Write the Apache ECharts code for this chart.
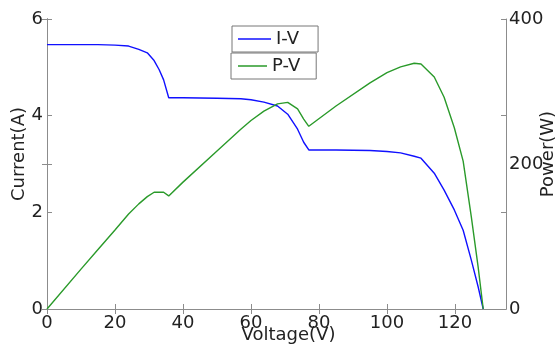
<!DOCTYPE html>
<html>
<head>
<meta charset="utf-8">
<script src="https://cdn.jsdelivr.net/npm/echarts@6/dist/echarts.min.js"></script>
<style>
  html, body { margin: 0; padding: 0; background: #fff; }
  #chart { width: 557px; height: 349px; }
</style>
</head>
<body>
<div id="chart"></div>
<script>
// values
const voltage = [0, 10, 15, 20, 24, 27, 29.5, 31.5, 33, 34.3, 35.8, 40, 50, 57, 60, 63.8, 67.8, 70.8, 73.7, 75.5, 77, 85, 95, 100, 104, 108, 110, 113.9, 116.8, 119.8, 122.4, 124.8, 126.8, 128.3];
const current = [5.47, 5.47, 5.47, 5.46, 5.44, 5.37, 5.30, 5.14, 4.95, 4.74, 4.37, 4.37, 4.36, 4.35, 4.33, 4.28, 4.20, 4.03, 3.72, 3.45, 3.29, 3.29, 3.28, 3.26, 3.23, 3.16, 3.12, 2.81, 2.46, 2.05, 1.63, 1.01, 0.46, 0];
const power = [0, 55, 82, 109, 131, 145, 155, 161, 161, 161, 156, 175, 218, 248, 260, 273, 283, 285, 276, 262, 252, 280, 312, 326, 334, 339, 338, 320, 292, 250, 204, 127, 58, 0];

const xTicks = [0, 20, 40, 60, 80, 100, 120];

const font = "'DejaVu Sans', sans-serif";
const axisGray = '#8c8c8c';
const textColor = '#222';
const tickLen = 5;

const chart = echarts.init(document.getElementById('chart'));

const ivData = voltage.map((v, i) => [v, current[i]]);
const pvData = voltage.map((v, i) => [v, power[i]]);

const legendBox = (name, top, left, pad, w) => ({
    data: [{ name: name, icon: 'rect' }],
    left: left,
    top: top,
    orient: 'vertical',
    itemWidth: w,
    itemHeight: 1.5,
    itemGap: 0,
    padding: pad,
    borderColor: '#777',
    borderWidth: 1,
    textStyle: { fontSize: 18, fontFamily: font, color: textColor }
});

const tick = (extra) => Object.assign({ show: true, inside: true, length: tickLen, lineStyle: { color: axisGray } }, extra || {});

chart.setOption({
    animation: false,
    grid: { left: 47, right: 51, top: 19, bottom: 40, outerBoundsMode: 'none', containLabel: false },
    legend: [
        legendBox('I-V', 26, 232, [4, 19, 4, 6], 33),
        legendBox('P-V', 53, 231, [4, 16, 4, 7], 29)
    ],
    xAxis: [
        {
            type: 'value',
            min: 0,
            max: 135,
            name: 'Voltage(V)',
            nameLocation: 'middle',
            nameGap: 17,
            nameMoveOverlap: false,
            nameTextStyle: { fontSize: 18, fontFamily: font, color: textColor, padding: [0, 0, 0, 24] },
            axisLine: { lineStyle: { color: axisGray } },
            axisTick: tick({ customValues: xTicks }),
            axisLabel: { customValues: xTicks, fontSize: 18, fontFamily: font, color: textColor, margin: 5 },
            splitLine: { show: false }
        },
        {
            type: 'value',
            position: 'top',
            min: 0,
            max: 135,
            axisLine: { show: true, lineStyle: { color: axisGray } },
            axisTick: tick({ customValues: xTicks }),
            axisLabel: { show: false },
            splitLine: { show: false }
        }
    ],
    yAxis: [
        {
            type: 'value',
            min: 0,
            max: 6,
            interval: 2,
            name: 'Current(A)',
            nameLocation: 'middle',
            nameGap: 19,
            nameMoveOverlap: false,
            nameTextStyle: { fontSize: 18, fontFamily: font, color: textColor, padding: [0, 0, 0, 20] },
            axisLine: { show: true, lineStyle: { color: axisGray } },
            axisTick: tick(),
            axisLabel: { fontSize: 18, fontFamily: font, color: textColor, margin: 4 },
            splitLine: { show: false }
        },
        {
            type: 'value',
            position: 'right',
            min: 0,
            max: 400,
            interval: 200,
            name: 'Power(W)',
            nameLocation: 'middle',
            nameGap: 33,
            nameMoveOverlap: false,
            nameTextStyle: { fontSize: 18, fontFamily: font, color: textColor, padding: [0, 0, 0, 20] },
            axisLine: { show: true, lineStyle: { color: axisGray } },
            axisTick: tick(),
            axisLabel: { fontSize: 18, fontFamily: font, color: textColor, margin: 3 },
            splitLine: { show: false }
        },
        {
            type: 'value',
            position: 'right',
            min: 0,
            max: 6,
            interval: 2,
            axisLine: { show: true, lineStyle: { color: axisGray } },
            axisTick: tick(),
            axisLabel: { show: false },
            splitLine: { show: false }
        },
        {
            type: 'value',
            position: 'left',
            min: 0,
            max: 400,
            interval: 200,
            axisLine: { show: true, lineStyle: { color: axisGray } },
            axisTick: tick(),
            axisLabel: { show: false },
            splitLine: { show: false }
        }
    ],
    series: [
        {
            name: 'I-V',
            type: 'line',
            xAxisIndex: 0,
            yAxisIndex: 0,
            data: ivData,
            symbol: 'none',
            lineStyle: { color: '#1010ff', width: 1.4 },
            itemStyle: { color: '#1010ff' }
        },
        {
            name: 'P-V',
            type: 'line',
            xAxisIndex: 0,
            yAxisIndex: 1,
            data: pvData,
            symbol: 'none',
            lineStyle: { color: '#2a9a2a', width: 1.4 },
            itemStyle: { color: '#2a9a2a' }
        }
    ]
});
</script>
</body>
</html>
